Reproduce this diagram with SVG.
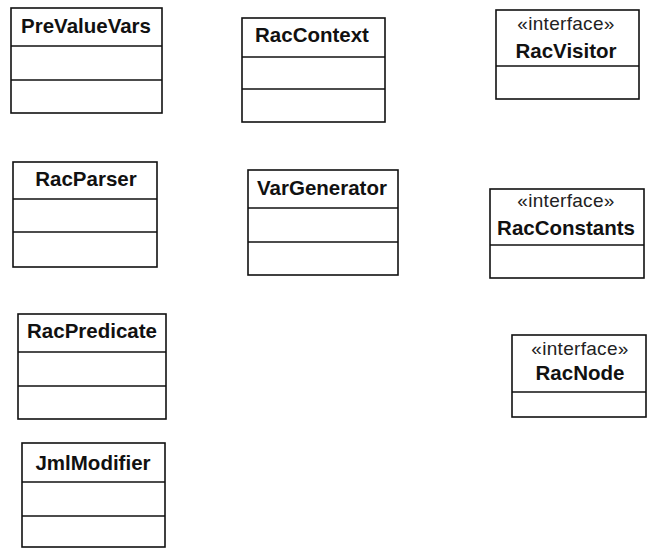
<svg xmlns="http://www.w3.org/2000/svg" width="647" height="549" viewBox="0 0 647 549">
  <style>
    .box { fill: #ffffff; stroke: #111111; stroke-width: 1.6; }
    .sep { stroke: #111111; stroke-width: 1.6; }
    .name { font-family: "Liberation Sans", Arial, sans-serif; font-weight: bold; font-size: 20.5px; fill: #111111; text-anchor: middle; }
    .stereo { font-family: "Liberation Sans", Arial, sans-serif; font-size: 19px; fill: #222222; text-anchor: middle; letter-spacing: 0.3px; }
  </style>
  <rect width="647" height="549" fill="#ffffff"/>

  <g id="PreValueVars">
    <rect class="box" x="11" y="8" width="151" height="105"/>
    <line class="sep" x1="11" y1="46" x2="162" y2="46"/>
    <line class="sep" x1="11" y1="80" x2="162" y2="80"/>
    <text class="name" x="86" y="33">PreValueVars</text>
  </g>

  <g id="RacContext">
    <rect class="box" x="242" y="18" width="143" height="104"/>
    <line class="sep" x1="242" y1="57" x2="385" y2="57"/>
    <line class="sep" x1="242" y1="89" x2="385" y2="89"/>
    <text class="name" x="312" y="42">RacContext</text>
  </g>

  <g id="RacVisitor">
    <rect class="box" x="496" y="10" width="143" height="89"/>
    <line class="sep" x1="496" y1="66" x2="639" y2="66"/>
    <text class="stereo" x="566" y="30">«interface»</text>
    <text class="name" x="566" y="58">RacVisitor</text>
  </g>

  <g id="RacParser">
    <rect class="box" x="13" y="162" width="144" height="105"/>
    <line class="sep" x1="13" y1="199" x2="157" y2="199"/>
    <line class="sep" x1="13" y1="232" x2="157" y2="232"/>
    <text class="name" x="86" y="186">RacParser</text>
  </g>

  <g id="VarGenerator">
    <rect class="box" x="248" y="170" width="150" height="105"/>
    <line class="sep" x1="248" y1="208" x2="398" y2="208"/>
    <line class="sep" x1="248" y1="242" x2="398" y2="242"/>
    <text class="name" x="322" y="195">VarGenerator</text>
  </g>

  <g id="RacConstants">
    <rect class="box" x="490" y="189" width="154" height="89"/>
    <line class="sep" x1="490" y1="245" x2="644" y2="245"/>
    <text class="stereo" x="566" y="207">«interface»</text>
    <text class="name" x="566" y="235">RacConstants</text>
  </g>

  <g id="RacPredicate">
    <rect class="box" x="18" y="314" width="148" height="105"/>
    <line class="sep" x1="18" y1="352" x2="166" y2="352"/>
    <line class="sep" x1="18" y1="386" x2="166" y2="386"/>
    <text class="name" x="92" y="338">RacPredicate</text>
  </g>

  <g id="RacNode">
    <rect class="box" x="512" y="335" width="134" height="82"/>
    <line class="sep" x1="512" y1="392" x2="646" y2="392"/>
    <text class="stereo" x="580" y="355">«interface»</text>
    <text class="name" x="580" y="380">RacNode</text>
  </g>

  <g id="JmlModifier">
    <rect class="box" x="22" y="443" width="143" height="104"/>
    <line class="sep" x1="22" y1="482" x2="165" y2="482"/>
    <line class="sep" x1="22" y1="516" x2="165" y2="516"/>
    <text class="name" x="93" y="470">JmlModifier</text>
  </g>

  <g id="connectors"/>
</svg>
